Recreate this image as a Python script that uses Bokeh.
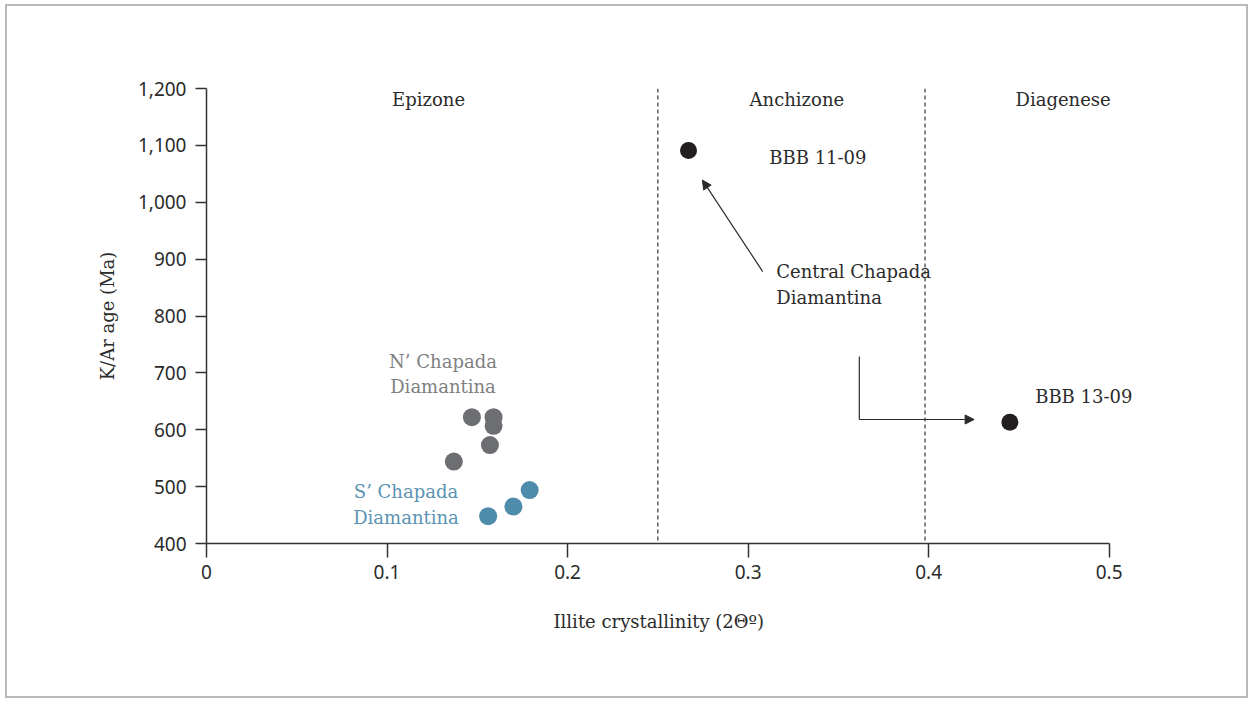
from bokeh.plotting import figure
from bokeh.models import Range1d, FixedTicker, NumeralTickFormatter, Span, Arrow, NormalHead, Label, Title
from bokeh.embed import file_html
from bokeh.resources import INLINE

# ---- data ----
n_x = [0.147, 0.159, 0.159, 0.157, 0.137]
n_y = [622, 622, 607, 573, 544]
s_x = [0.156, 0.170, 0.179]
s_y = [448, 465, 494]
c_x = [0.267, 0.445]
c_y = [1091, 613]
boundaries = [0.25, 0.398]
x_ticks = [0, 0.1, 0.2, 0.3, 0.4, 0.5]
y_ticks = [400, 500, 600, 700, 800, 900, 1000, 1100, 1200]
zone_names = ["Epizone", "Anchizone", "Diagenese"]
zone_x = [0.123, 0.327, 0.4745]
zone_y = [1181, 1181, 1181]

SERIF = "DejaVu Serif"
SANS = "Noto Sans"
TXT = "#2b2b2b"
FS = "18px"

# x range extends past 0.5 (axis bounded at 0.5) so that labels are not clipped
p = figure(width=1243, height=694, output_backend="svg", toolbar_location=None,
           x_range=Range1d(0, 0.56), y_range=Range1d(400, 1200),
           min_border_left=199, min_border_right=33, min_border_top=82, min_border_bottom=157)
p.styles = {"border": "2px solid #b9b9b9", "margin-left": "5px", "margin-top": "4px"}
p.grid.visible = False
p.outline_line_color = None
p.background_fill_color = "white"
p.border_fill_color = "white"

for ax in (p.xaxis[0], p.yaxis[0]):
    ax.axis_line_color = "#333333"
    ax.axis_line_width = 1.5
    ax.major_tick_line_color = "#333333"
    ax.major_tick_line_width = 1.5
    ax.minor_tick_line_color = None
    ax.major_tick_in = 0
    ax.major_label_text_font = SANS
    ax.major_label_text_font_size = "19px"
    ax.major_label_text_color = TXT
    ax.axis_label_text_font = SERIF
    ax.axis_label_text_font_size = FS
    ax.axis_label_text_font_style = "normal"
    ax.axis_label_text_color = TXT

p.xaxis.bounds = (0, 0.5)
p.xaxis.ticker = FixedTicker(ticks=x_ticks)
p.yaxis.ticker = FixedTicker(ticks=y_ticks)
p.xaxis.formatter = NumeralTickFormatter(format="0.[0]")
p.yaxis.formatter = NumeralTickFormatter(format="0,0")
p.xaxis.major_tick_out = 14
p.yaxis.major_tick_out = 11
p.xaxis.major_label_standoff = 7
p.yaxis.major_label_standoff = 9
p.yaxis.axis_label = "K/Ar age (Ma)"
p.yaxis.axis_label_standoff = 17

# x axis title, centred under the 0 - 0.5 part of the axis
p.add_layout(Title(text="Illite crystallinity (2Θº)", align="left", offset=347, standoff=55,
                   text_font=SERIF, text_font_size=FS, text_font_style="normal",
                   text_color=TXT), "below")

for b in boundaries:
    p.add_layout(Span(location=b, dimension="height", line_color="#444444",
                      line_width=1.3, line_dash="4 3"))


def label(x, y, text, color=TXT, align="left"):
    p.add_layout(Label(x=x, y=y, text=text, text_font=SERIF, text_font_size=FS,
                       text_color=color, text_align=align, text_baseline="middle"))


for zx, zy, zn in zip(zone_x, zone_y, zone_names):
    label(zx, zy, zn, align="center")

# points
p.scatter(n_x, n_y, size=18, color="#6d6e71", line_color=None)
p.scatter(s_x, s_y, size=18, color="#4f8bab", line_color=None)
p.scatter(c_x, c_y, size=17, color="#231f20", line_color=None)

# group labels
label(0.131, 720, "N\u2019 Chapada", "#808080", "center")
label(0.131, 676, "Diamantina", "#808080", "center")
label(0.1105, 492, "S\u2019 Chapada", "#5a93b3", "center")
label(0.1105, 446, "Diamantina", "#5a93b3", "center")
label(0.3117, 1079, "BBB 11-09")
label(0.459, 659, "BBB 13-09")
label(0.3156, 878, "Central Chapada")
label(0.3156, 833, "Diamantina")

# arrows
p.add_layout(Arrow(x_start=0.3081, y_start=878, x_end=0.2747, y_end=1039,
                   line_color=TXT, line_width=1.2,
                   end=NormalHead(size=9, fill_color=TXT, line_color=TXT)))
p.segment(x0=[0.3616], y0=[729], x1=[0.3616], y1=[618], line_color=TXT, line_width=1.2)
p.add_layout(Arrow(x_start=0.3616, y_start=618, x_end=0.4252, y_end=618,
                   line_color=TXT, line_width=1.2,
                   end=NormalHead(size=9, fill_color=TXT, line_color=TXT)))

open("out.html", "w").write(file_html(p, INLINE))
